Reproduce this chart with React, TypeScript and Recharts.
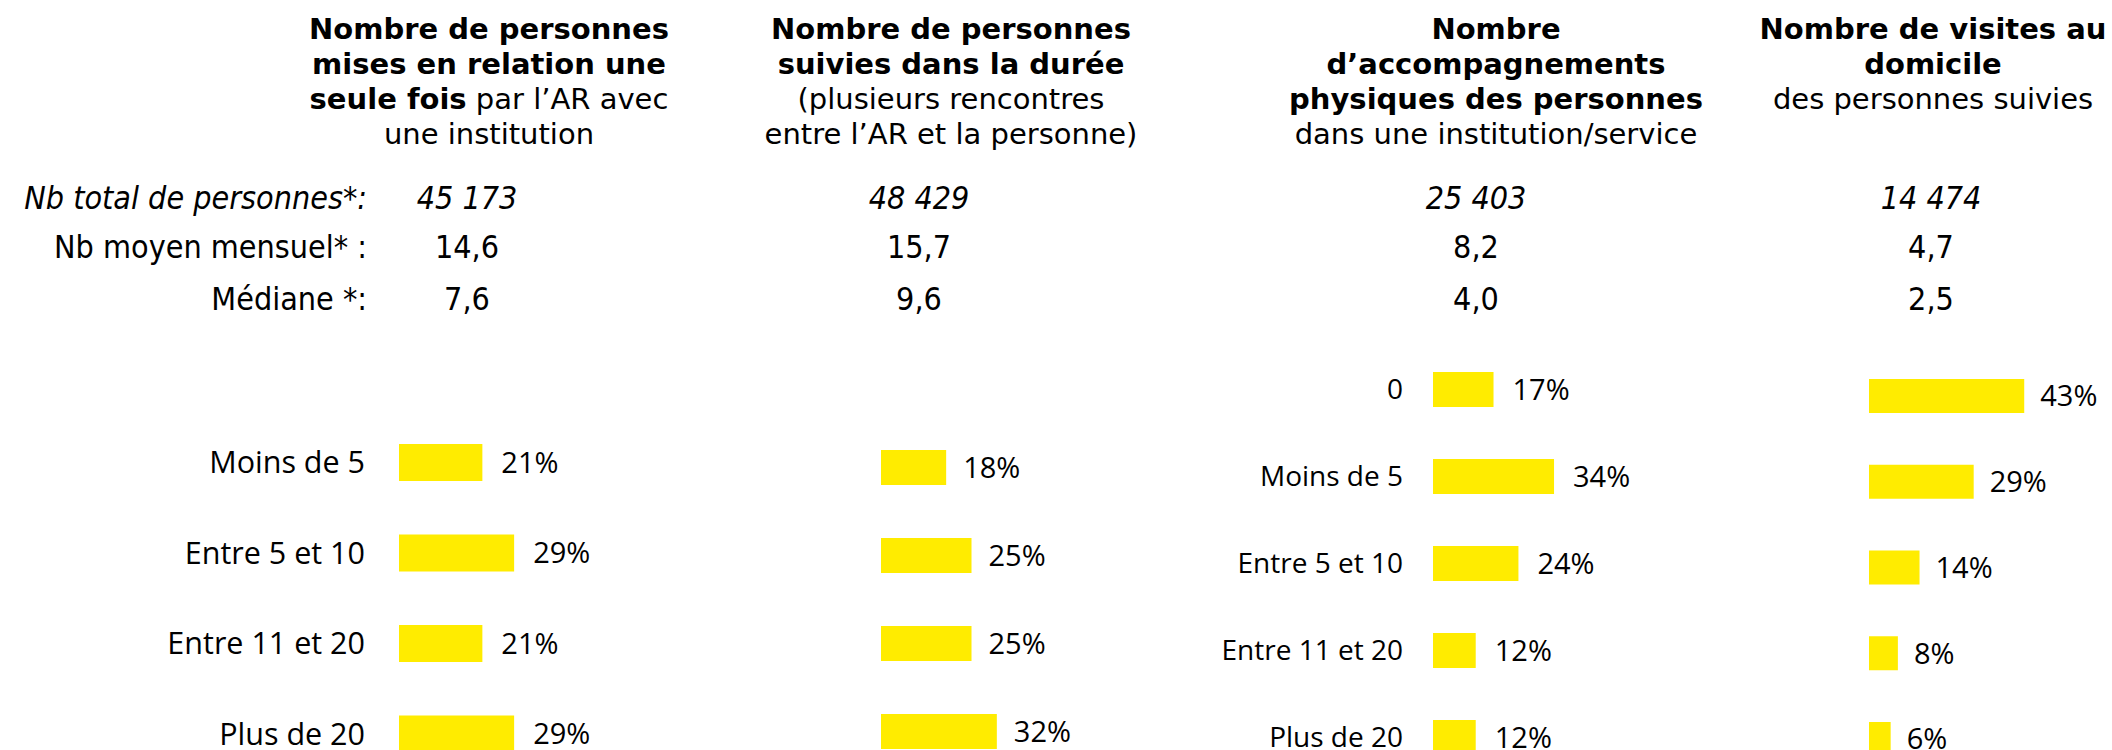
import React from 'react';
import { BarChart, Bar, XAxis, YAxis, LabelList } from 'recharts';

// categories
const catsFour = ['Moins de 5', 'Entre 5 et 10', 'Entre 11 et 20', 'Plus de 20'];
const catsFive = ['0', 'Moins de 5', 'Entre 5 et 10', 'Entre 11 et 20', 'Plus de 20'];

// series values (%)
const miseEnRelation = [21, 29, 21, 29];
const suiviesDuree = [18, 25, 25, 32];
const accompagnements = [17, 34, 24, 12, 12];
const visitesDomicile = [43, 29, 14, 8, 6];

// summary figures
const rowLabels = ['Nb total de personnes*:', 'Nb moyen mensuel* :', 'Médiane *:'];
const totalPersonnes = ['45 173', '48 429', '25 403', '14 474'];
const moyenMensuel = ['14,6', '15,7', '8,2', '4,7'];
const medianes = ['7,6', '9,6', '4,0', '2,5'];

type Seg = { t: string; b?: boolean };
const titles: Seg[][][] = [
  [
    [{ t: 'Nombre de personnes', b: true }],
    [{ t: 'mises en relation une', b: true }],
    [{ t: 'seule fois', b: true }, { t: ' par l’AR avec' }],
    [{ t: 'une institution' }],
  ],
  [
    [{ t: 'Nombre de personnes', b: true }],
    [{ t: 'suivies dans la durée', b: true }],
    [{ t: '(plusieurs rencontres' }],
    [{ t: 'entre l’AR et la personne)' }],
  ],
  [
    [{ t: 'Nombre', b: true }],
    [{ t: 'd’accompagnements', b: true }],
    [{ t: 'physiques des personnes', b: true }],
    [{ t: 'dans une institution/service' }],
  ],
  [
    [{ t: 'Nombre de visites au', b: true }],
    [{ t: 'domicile', b: true }],
    [{ t: 'des personnes suivies' }],
  ],
];

const YELLOW = '#FFEC00';
const TITLE_X = [489, 951, 1496, 1933];
const VALUE_X = [467, 919, 1476, 1931];
const ROW_TOP = [178, 227, 279];

const panels = [
  { values: miseEnRelation, cats: catsFour, x: 399, y: 417, band: 90.5, bar: 37, pxPer: 3.97, labels: true, tickGap: 34, tickFont: 30.5, labelGap: 19 },
  { values: suiviesDuree, cats: catsFour, x: 881, y: 422.5, band: 88, bar: 35, pxPer: 3.62, labels: false, tickGap: 0, tickFont: 28, labelGap: 17 },
  { values: accompagnements, cats: catsFive, x: 1433, y: 345.5, band: 87, bar: 35, pxPer: 3.56, labels: true, tickGap: 30, tickFont: 28, labelGap: 19 },
  { values: visitesDomicile, cats: catsFive, x: 1869, y: 353, band: 85.75, bar: 34, pxPer: 3.61, labels: false, tickGap: 0, tickFont: 28, labelGap: 16 },
];

function Panel({ spec }: { spec: typeof panels[number] }) {
  const data = spec.cats.map((c, i) => ({ cat: c, value: spec.values[i] }));
  const axisW = spec.labels ? 320 : 0;
  const plotW = spec.pxPer * 50;
  const rightPad = 90;
  const h = spec.band * spec.cats.length;
  return (
    <div style={{ position: 'absolute', left: spec.x - axisW, top: spec.y }}>
      <BarChart
        layout="vertical"
        width={axisW + plotW + rightPad}
        height={h}
        data={data}
        margin={{ top: 0, right: rightPad, bottom: 0, left: 0 }}
      >
        <XAxis type="number" domain={[0, 50]} hide height={0} />
        <YAxis
          type="category"
          dataKey="cat"
          width={axisW}
          hide={!spec.labels}
          axisLine={false}
          tickLine={false}
          tickSize={0}
          tickMargin={spec.tickGap}
          interval={0}
          tick={{ fill: '#000', fontSize: spec.tickFont, fontFamily: 'Open Sans' }}
        />
        <Bar dataKey="value" fill={YELLOW} barSize={spec.bar} isAnimationActive={false}>
          <LabelList
            dataKey="value"
            position="right"
            offset={spec.labelGap}
            formatter={(v: number) => `${v}%`}
            fill="#000"
            fontSize={29}
            fontFamily="Open Sans"
          />
        </Bar>
      </BarChart>
    </div>
  );
}

export default function App() {
  const statFont = "'DejaVu Sans Condensed', 'DejaVu Sans', sans-serif";
  return (
    <div
      style={{
        position: 'absolute',
        left: 0,
        top: 0,
        width: 2112,
        height: 750,
        overflow: 'hidden',
        background: '#fff',
        color: '#000',
        fontFamily: "'DejaVu Sans', sans-serif",
      }}
    >
      {titles.map((lines, i) => (
        <div
          key={`title-${i}`}
          style={{
            position: 'absolute',
            left: TITLE_X[i] - 300,
            top: 11.5,
            width: 600,
            textAlign: 'center',
            fontSize: 29,
            lineHeight: '35px',
            whiteSpace: 'nowrap',
          }}
        >
          {lines.map((segs, j) => (
            <div key={j}>
              {segs.map((s, k) => (
                <span key={k} style={{ fontWeight: s.b ? 'bold' : 'normal' }}>{s.t}</span>
              ))}
            </div>
          ))}
        </div>
      ))}

      {rowLabels.map((lbl, r) => (
        <div
          key={`row-${r}`}
          style={{
            position: 'absolute',
            left: 0,
            width: 367,
            top: ROW_TOP[r],
            textAlign: 'right',
            fontFamily: statFont,
            fontSize: 32,
            lineHeight: '40px',
            fontStyle: r === 0 ? 'italic' : 'normal',
            whiteSpace: 'nowrap',
          }}
        >
          {lbl}
        </div>
      ))}

      {[totalPersonnes, moyenMensuel, medianes].map((row, r) =>
        row.map((v, i) => (
          <div
            key={`val-${r}-${i}`}
            style={{
              position: 'absolute',
              left: VALUE_X[i] - 100,
              width: 200,
              top: ROW_TOP[r],
              textAlign: 'center',
              fontFamily: statFont,
              fontSize: 32,
              lineHeight: '40px',
              fontStyle: r === 0 ? 'italic' : 'normal',
            }}
          >
            {v}
          </div>
        ))
      )}

      {panels.map((p, i) => (
        <Panel key={`panel-${i}`} spec={p} />
      ))}
    </div>
  );
}
